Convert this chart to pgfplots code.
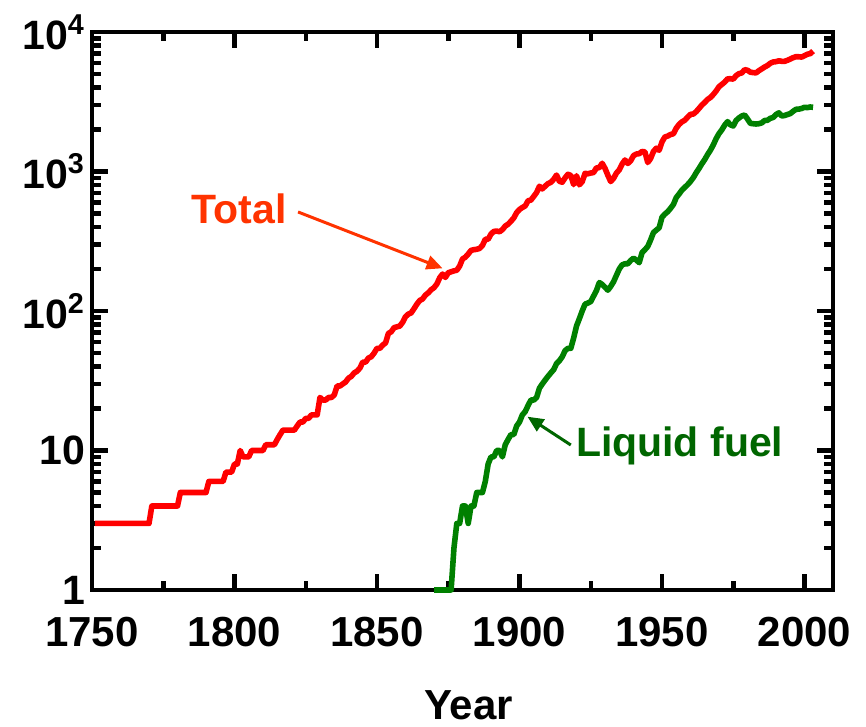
\documentclass[border=0pt]{standalone}
\usepackage{fontspec}
\setmainfont{Liberation Sans}
\usepackage{pgfplots}
\pgfplotsset{compat=1.18}
\usetikzlibrary{arrows.meta,calc}

\definecolor{totline}{RGB}{255,0,0}
\definecolor{liqline}{RGB}{0,128,0}
\definecolor{tottext}{RGB}{255,51,0}
\definecolor{liqtext}{RGB}{0,102,0}

\newcommand{\labfont}{\fontsize{20.5}{24}\selectfont\bfseries}
\newcommand{\xfont}{\fontsize{21}{25}\selectfont\bfseries}

\begin{document}
\begin{tikzpicture}
\begin{axis}[
  name=ax,
  ymode=log,
  scale only axis,
  width=370.5pt, height=279pt,
  xmin=1750, xmax=2010,
  ymin=1, ymax=10000,
  clip=false,
  xtick={1750,1800,1850,1900,1950,2000},
  minor xtick={1775,1825,1875,1925,1975},
  ytick={1,10,100,1000,10000},
  yticklabels={1,10,10\textsuperscript{2},10\textsuperscript{3},10\textsuperscript{4}},
  minor ytick={2,3,4,5,6,7,8,9,20,30,40,50,60,70,80,90,200,300,400,500,600,700,800,900,2000,3000,4000,5000,6000,7000,8000,9000},
  /pgf/number format/assume math mode=true,
  yticklabel style={font=\labfont},
  xticklabel style={font=\xfont, /pgf/number format/1000 sep={}, yshift=-10pt},
  axis line style={line width=2.25pt},
  major tick length=8pt,
  minor tick length=4.5pt,
  every tick/.style={black, line width=2.25pt},
  xlabel={Year},
  xlabel style={font=\xfont, at={(axis description cs:0.508,-0.206)}, anchor=center},
]
% global fossil-fuel carbon emissions (million tonnes C)
\addplot[totline, line width=2.8pt, line join=round] coordinates {
(1751,3) (1770,3) (1771,4) (1780,4) (1781,5) (1790,5) (1791,6) (1796,6)
(1797,7) (1799,7) (1800,8) (1801,8) (1802,10) (1803,9) (1805,9) (1806,10)
(1810,10) (1811,11) (1814,11) (1815,12) (1816,13) (1817,14) (1821,14)
(1822,15) (1823,16) (1824,16) (1825,17) (1826,17) (1827,18) (1829,18)
(1830,24) (1831,23) (1832,23) (1833,24) (1834,24) (1835,25) (1836,29)
(1837,29) (1838,30) (1839,31) (1840,33) (1841,34) (1842,36) (1843,37)
(1844,39) (1845,43) (1846,43) (1847,46) (1848,47) (1849,50) (1850,54)
(1851,54) (1852,57) (1853,59) (1854,69) (1855,71) (1856,76) (1857,77)
(1858,78) (1859,83) (1860,91) (1861,95) (1862,97) (1863,104) (1864,112)
(1865,119) (1866,122) (1867,130) (1868,135) (1869,142) (1870,147)
(1871,156) (1872,173) (1873,184) (1874,174) (1875,188) (1876,191)
(1877,194) (1878,196) (1879,210) (1880,236) (1881,243) (1882,256)
(1883,272) (1884,275) (1885,277) (1886,281) (1887,295) (1888,327)
(1889,327) (1890,356) (1891,372) (1892,374) (1893,370) (1894,383)
(1895,406) (1896,419) (1897,440) (1898,465) (1899,507) (1900,534)
(1901,552) (1902,566) (1903,617) (1904,624) (1905,663) (1906,707)
(1907,784) (1908,750) (1909,785) (1910,819) (1911,836) (1912,879)
(1913,943) (1914,850) (1915,838) (1916,901) (1917,955) (1918,936)
(1919,806) (1920,932) (1921,803) (1922,845) (1923,970) (1924,963)
(1925,975) (1926,983) (1927,1062) (1928,1065) (1929,1145) (1930,1053)
(1931,940) (1932,847) (1933,893) (1934,973) (1935,1027) (1936,1130)
(1937,1209) (1938,1142) (1939,1192) (1940,1299) (1941,1334) (1942,1342)
(1943,1391) (1944,1383) (1945,1160) (1946,1238) (1947,1392) (1948,1469)
(1949,1419) (1950,1630) (1951,1767) (1952,1795) (1953,1841) (1954,1865)
(1955,2042) (1956,2177) (1957,2270) (1958,2330) (1959,2454) (1960,2569)
(1961,2580) (1962,2686) (1963,2833) (1964,2995) (1965,3130) (1966,3288)
(1967,3393) (1968,3566) (1969,3780) (1970,4053) (1971,4208) (1972,4376)
(1973,4614) (1974,4623) (1975,4596) (1976,4864) (1977,5026) (1978,5087)
(1979,5369) (1980,5315) (1981,5152) (1982,5113) (1983,5094) (1984,5280)
(1985,5439) (1986,5607) (1987,5752) (1988,5965) (1989,6097) (1990,6127)
(1991,6217) (1992,6164) (1993,6162) (1994,6266) (1995,6398) (1996,6542)
(1997,6651) (1998,6643) (1999,6610) (2000,6765) (2001,6927) (2002,6996)
(2003,7300)
};
% liquid fuel
\addplot[liqline, line width=2.8pt, line join=round] coordinates {
(1870,1) (1876,1) (1877,2) (1878,3) (1879,3) (1880,4) (1881,4) (1882,3)
(1883,4) (1884,4) (1885,5) (1886,5) (1887,5) (1888,6) (1889,8) (1890,9)
(1891,9) (1892,10) (1893,10) (1894,9) (1895,11) (1896,12) (1897,13)
(1898,13) (1899,15) (1900,16) (1901,18) (1902,19) (1903,21) (1904,23)
(1905,23) (1906,24) (1907,28) (1908,30) (1909,32) (1910,34) (1911,36)
(1912,38) (1913,42) (1914,44) (1915,47) (1916,52) (1917,54) (1918,54)
(1919,64) (1920,78) (1921,88) (1922,100) (1923,112) (1924,114) (1925,117)
(1926,128) (1927,140) (1928,160) (1929,155) (1930,148) (1931,141)
(1932,150) (1933,162) (1934,180) (1935,200) (1936,214) (1937,218)
(1938,218) (1939,230) (1940,239) (1941,232) (1942,222) (1943,262)
(1944,275) (1945,290) (1946,323) (1947,365) (1948,380) (1949,395)
(1950,470) (1951,495) (1952,515) (1953,545) (1954,580) (1955,650)
(1956,690) (1957,736) (1958,770) (1959,805) (1960,849) (1961,904)
(1962,980) (1963,1052) (1964,1137) (1965,1219) (1966,1323) (1967,1423)
(1968,1551) (1969,1720) (1970,1870) (1971,1990) (1972,2150) (1973,2277)
(1974,2160) (1975,2120) (1976,2320) (1977,2420) (1978,2500) (1979,2540)
(1980,2380) (1981,2213) (1982,2200) (1983,2190) (1984,2200) (1985,2230)
(1986,2320) (1987,2330) (1988,2405) (1989,2440) (1990,2560) (1991,2632)
(1992,2500) (1993,2520) (1994,2560) (1995,2600) (1996,2700) (1997,2790)
(1998,2800) (1999,2830) (2000,2885) (2001,2870) (2002,2900) (2003,2885)
};
\node[text=tottext, anchor=base west, inner sep=0pt, font=\labfont]
  at (axis cs:1784.8,420.5) {Total};
\draw[tottext, line width=1.5pt, -{Triangle[length=8pt,width=7pt]}]
  (axis cs:1822.3,512.6) -- (axis cs:1873.0,202.3);
\node[text=liqtext, anchor=base west, inner sep=0pt, font=\labfont]
  at (axis cs:1919.7,9.13) {Liquid fuel};
\draw[liqtext, line width=1.5pt, -{Triangle[length=8pt,width=7pt]}]
  (axis cs:1918.0,10.95) -- (axis cs:1902.8,17.47);
\end{axis}
\path ($(ax.south west)+(-46pt,-68pt)$) rectangle ($(ax.north east)+(16.5pt,16pt)$);
\end{tikzpicture}
\end{document}
